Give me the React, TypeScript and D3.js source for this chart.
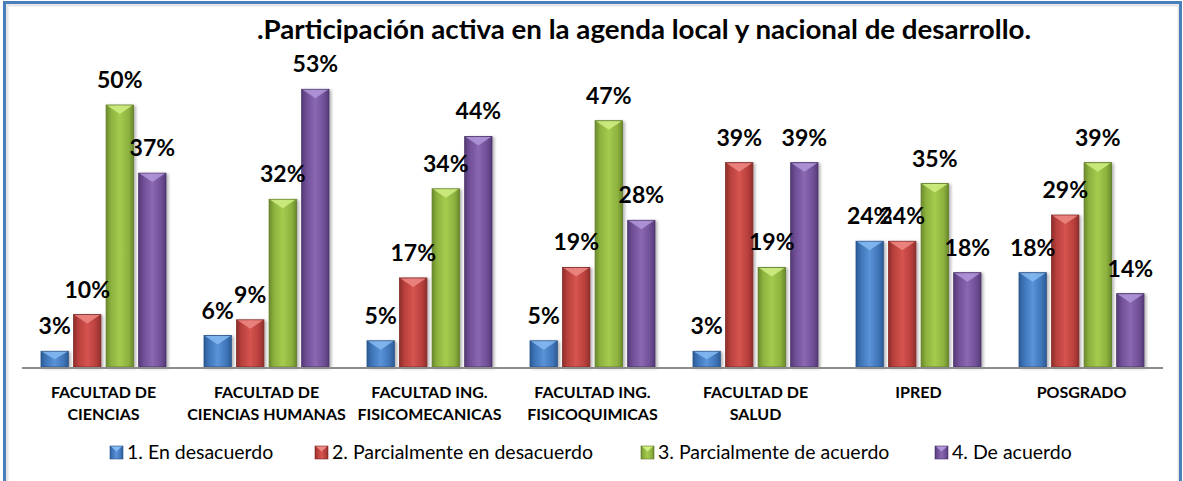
import React from "react";
import * as d3 from "d3";

const categories = [
  "FACULTAD DE\nCIENCIAS",
  "FACULTAD DE\nCIENCIAS HUMANAS",
  "FACULTAD ING.\nFISICOMECANICAS",
  "FACULTAD ING.\nFISICOQUIMICAS",
  "FACULTAD DE\nSALUD",
  "IPRED",
  "POSGRADO",
];
const seriesNames = [
  "1. En desacuerdo",
  "2. Parcialmente en desacuerdo",
  "3. Parcialmente de acuerdo",
  "4. De acuerdo",
];
const enDesacuerdo = [0.03, 0.06, 0.05, 0.05, 0.03, 0.24, 0.18];
const parcialDesacuerdo = [0.10, 0.09, 0.17, 0.19, 0.39, 0.24, 0.29];
const parcialAcuerdo = [0.50, 0.32, 0.34, 0.47, 0.19, 0.35, 0.39];
const deAcuerdo = [0.37, 0.53, 0.44, 0.28, 0.39, 0.18, 0.14];
const seriesValues = [enDesacuerdo, parcialDesacuerdo, parcialAcuerdo, deAcuerdo];
const title = ".Participación activa en la agenda local y nacional de desarrollo.";

const palette = [
  { dark: "#2D5C97", mid: "#3F75B8", light: "#5A93D8", cap: "#86BBF2", stroke: "#2A5287" },
  { dark: "#8F2E2B", mid: "#B8403C", light: "#D65450", cap: "#EE8A85", stroke: "#7E2825" },
  { dark: "#6B8A2C", mid: "#8DB23E", light: "#A5CB4F", cap: "#D0EE84", stroke: "#5E7A25" },
  { dark: "#553B76", mid: "#704F97", light: "#8A68B2", cap: "#B298DA", stroke: "#4A3368" },
];

const W = 1183;
const H = 481;
const plotLeft = 22;
const plotRight = 1163;
const baseY = 367;
const topY = 52.6;

export default function App() {
  const x0 = d3.scaleBand<number>().domain(d3.range(categories.length)).range([plotLeft, plotRight]);
  const x1 = d3.scaleBand<number>().domain(d3.range(4)).range([19, 144]).paddingInner(0.16);
  const y = d3.scaleLinear().domain([0, 0.6]).range([baseY, topY]);
  const fmt = d3.format(".0%");
  const bw = x1.bandwidth();

  const legendX = [110, 315, 641, 935];
  const legendY = 459;

  return (
    <svg
      width={W}
      height={H}
      style={{ position: "absolute", left: 0, top: 0, background: "#fff" }}
      fontFamily="Lato, 'Open Sans', sans-serif"
    >
      <defs>
        {palette.map((p, i) => (
          <linearGradient key={i} id={`g${i}`} x1="0" x2="1" y1="0" y2="0">
            <stop offset="0%" stopColor={p.dark} />
            <stop offset="18%" stopColor={p.mid} />
            <stop offset="50%" stopColor={p.light} />
            <stop offset="82%" stopColor={p.mid} />
            <stop offset="100%" stopColor={p.dark} />
          </linearGradient>
        ))}
        <filter id="sh" x="-20%" y="-10%" width="150%" height="130%">
          <feDropShadow dx="2" dy="1" stdDeviation="1.6" floodColor="#000" floodOpacity="0.3" />
        </filter>
      </defs>

      <rect x={0} y={0} width={W} height={H} fill="#fff" />
      <rect x={7} y={5} width={1172} height={H} fill="none" stroke="#e6e6e6" strokeWidth={3} />
      <rect x={4.5} y={2.5} width={1176} height={H + 10} fill="none" stroke="#4A7EBB" strokeWidth={3} />

      <text
        x={257}
        y={39}
        fontSize={26}
        fontWeight={700}
        textLength={774}
        lengthAdjust="spacingAndGlyphs"
        fill="#000"
      >
        {title}
      </text>

      {seriesValues.map((vals, s) => (
        <g key={s}>
          {vals.map((v, c) => {
            const bx = (x0(c) as number) + (x1(s) as number);
            const by = y(v);
            const bh = baseY - by;
            const capH = Math.min(9, bh / 2);
            return (
              <g key={c}>
                <rect x={bx} y={by} width={bw} height={bh} fill={`url(#g${s})`} stroke={palette[s].stroke} strokeWidth={0.8} filter="url(#sh)" />
                <path
                  d={`M${bx + 1},${by + 0.5} L${bx + bw - 1},${by + 0.5} L${bx + bw / 2},${by + capH} Z`}
                  fill={palette[s].cap}
                  opacity={0.85}
                />
              </g>
            );
          })}
        </g>
      ))}

      <line x1={plotLeft} x2={plotRight} y1={baseY + 1} y2={baseY + 1} stroke="#8c8c8c" strokeWidth={2} />

      {seriesValues.map((vals, s) => (
        <g key={`l${s}`}>
          {vals.map((v, c) => {
            const cx = (x0(c) as number) + (x1(s) as number) + bw / 2;
            return (
              <text key={c} x={cx} y={y(v) - 17} textAnchor="middle" fontSize={23} fontWeight={700} fill="#000">
                {fmt(v)}
              </text>
            );
          })}
        </g>
      ))}

      {categories.map((cat, c) => {
        const cx = (x0(c) as number) + x0.bandwidth() / 2;
        return cat.split("\n").map((line, i) => (
          <text key={`${c}-${i}`} x={cx} y={398 + i * 22} textAnchor="middle" fontSize={16} fontWeight={700} fill="#000">
            {line}
          </text>
        ));
      })}

      {seriesNames.map((name, s) => (
        <g key={`lg${s}`}>
          <rect x={legendX[s]} y={legendY - 13} width={13} height={13} fill={`url(#g${s})`} stroke={palette[s].stroke} strokeWidth={0.6} />
          <path
            d={`M${legendX[s] + 1},${legendY - 12.5} L${legendX[s] + 12},${legendY - 12.5} L${legendX[s] + 6.5},${legendY - 7.5} Z`}
            fill={palette[s].cap}
          />
          <text x={legendX[s] + 17} y={legendY} fontSize={19.5} fill="#000">
            {name}
          </text>
        </g>
      ))}
    </svg>
  );
}
